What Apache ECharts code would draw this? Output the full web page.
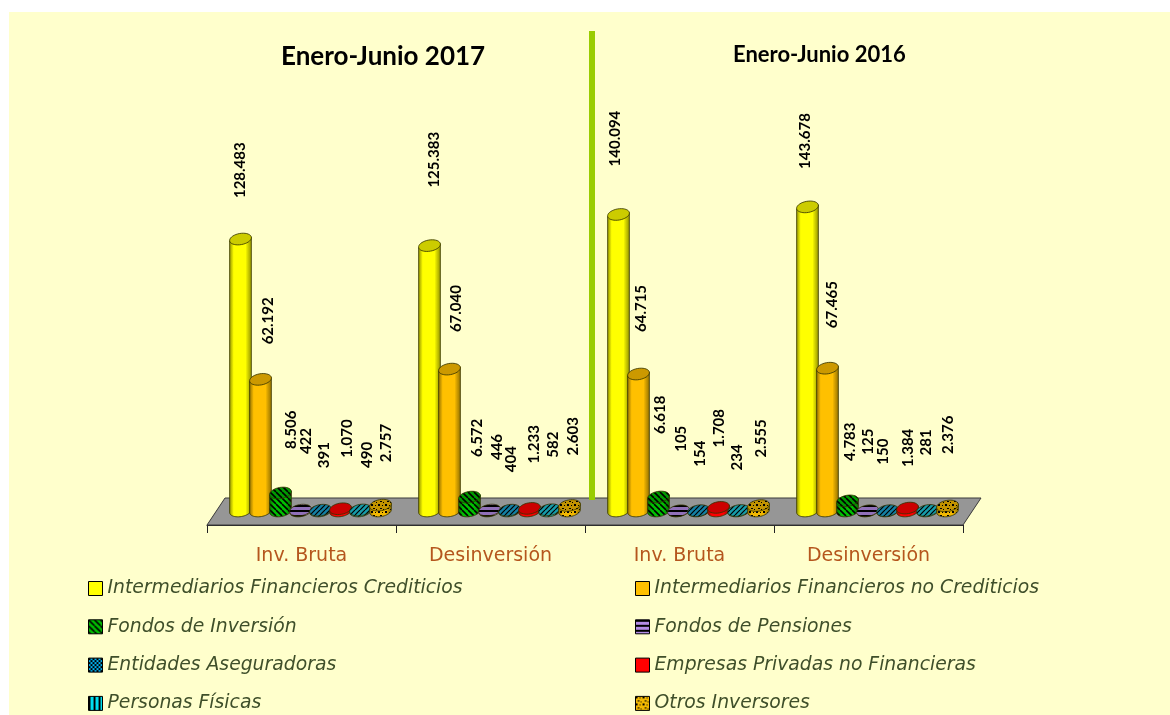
<!DOCTYPE html>
<html>
<head>
<meta charset="utf-8">
<style>
  html, body { margin: 0; padding: 0; background: #fff; }
  #chart { width: 1170px; height: 715px; }
</style>
<script src="https://cdn.jsdelivr.net/npm/echarts@6/dist/echarts.min.js"></script>
</head>
<body>
<div id="chart"></div>
<script>
const categories = ["Inv. Bruta", "Desinversión", "Inv. Bruta", "Desinversión"];

const crediticios = [128483, 125383, 140094, 143678];
const noCrediticios = [62192, 67040, 64715, 67465];
const fondosInversion = [8506, 6572, 6618, 4783];
const fondosPensiones = [422, 446, 105, 125];
const aseguradoras = [391, 404, 154, 150];
const empresas = [1070, 1233, 1708, 1384];
const personas = [490, 582, 234, 281];
const otros = [2757, 2603, 2555, 2376];

const periods = ["Enero-Junio 2017", "Enero-Junio 2016"];

// hand nudges for the data labels, the original has them moved around: [dx, gap above top]
const labelNudges = [
  [[-1, 41], [3.5, 58], [-4.5, 48], [-3.5, 38]],
  [[7, 35], [5.5, 37], [1.5, 42], [3.5, 40]],
  [[10, 44], [6.5, 40], [0.5, 63], [1.5, 40]],
  [[5, 56], [6.5, 50], [1.5, 59], [-0.5, 56]],
  [[3, 42], [0.5, 38], [0.5, 44], [-5.5, 46]],
  [[6, 51], [3.5, 45], [-0.5, 60], [-0.5, 41]],
  [[6, 42], [2.5, 52], [-2.5, 40], [-2.5, 55]],
  [[5, 43], [2.5, 50], [1.5, 48], [-0.5, 52]]
];

const FONT = "Lato, 'Open Sans', sans-serif";
const WIDE_FONT = "'DejaVu Sans', 'Open Sans', sans-serif";
const DEPTH_X = 9, DEPTH_Y = 14;
const TILT = -10 * Math.PI / 180;

function pattern(size, bg, draw) {
  const c = document.createElement("canvas");
  c.width = c.height = size;
  const g = c.getContext("2d");
  g.fillStyle = bg;
  g.fillRect(0, 0, size, size);
  g.fillStyle = g.strokeStyle = "#000";
  draw(g);
  return { image: c, repeat: "repeat" };
}

const diag = (w, back) => g => {
  const s = g.canvas.width;
  g.lineWidth = w;
  for (let i = -s; i <= 2 * s; i += s) {
    g.beginPath();
    if (back) { g.moveTo(i, 0); g.lineTo(i + s, s); }
    else { g.moveTo(i + s, 0); g.lineTo(i, s); }
    g.stroke();
  }
};

const greenFill = pattern(6, "#00c000", diag(1.6, true));
const purpleFill = pattern(5, "#b48ce6", g => g.fillRect(0, 0, 5, 2));
const checkFill = pattern(4, "#00b0f0", g => { g.fillRect(0, 0, 2, 2); g.fillRect(2, 2, 2, 2); });
const aseguradorasBody = pattern(5, "#1aa0cc", diag(1.2, false));
const cyanFill = pattern(5, "#00e0f0", g => g.fillRect(0, 0, 2, 5));
const personasBody = pattern(5, "#1cc4d4", diag(1.2, false));
const goldFill = pattern(7, "#f2b800", g => {
  g.fillRect(0, 0, 2, 2); g.fillRect(4, 1, 1, 1); g.fillRect(2, 4, 2, 1); g.fillRect(5, 5, 1, 1);
});

const seriesDefs = [
  { name: "Intermediarios Financieros Crediticios", values: crediticios, color: "#ffff00" },
  { name: "Intermediarios Financieros no Crediticios", values: noCrediticios, color: "#ffc000" },
  { name: "Fondos de Inversión", values: fondosInversion, color: greenFill },
  { name: "Fondos de Pensiones", values: fondosPensiones, color: purpleFill },
  { name: "Entidades Aseguradoras", values: aseguradoras, color: checkFill, body: aseguradorasBody },
  { name: "Empresas Privadas no Financieras", values: empresas, color: "#ff0000" },
  { name: "Personas Físicas", values: personas, color: cyanFill, body: personasBody },
  { name: "Otros Inversores", values: otros, color: goldFill }
];

function arc(cx, cy, a, b, from, to, n) {
  const pts = [];
  for (let i = 0; i <= n; i++) {
    const t = from + (to - from) * i / n;
    pts.push([
      cx + a * Math.cos(t) * Math.cos(TILT) - b * Math.sin(t) * Math.sin(TILT),
      cy + a * Math.cos(t) * Math.sin(TILT) + b * Math.sin(t) * Math.cos(TILT)
    ]);
  }
  return pts;
}

function fmt(v) {
  return String(v).replace(/\B(?=(\d{3})+$)/, ".");
}

const shade = new echarts.graphic.LinearGradient(0, 0, 1, 0, [
  { offset: 0, color: "rgba(40,40,0,0.5)" },
  { offset: 0.2, color: "rgba(0,0,0,0)" },
  { offset: 0.72, color: "rgba(0,0,0,0)" },
  { offset: 1, color: "rgba(40,40,0,0.5)" }
]);

function cylinder(idx, def) {
  return (params, api) => {
    const cat = api.value(0);
    const band = api.size([1, 0])[0];
    const slot = band / 9.45;
    const a = slot * 0.55, b = 5.6;
    const base = api.coord([cat, 0]);
    const top = api.coord([cat, api.value(1)]);
    const cx = base[0] + DEPTH_X + (idx - 3.5) * slot;
    const yBase = base[1] - DEPTH_Y;
    const yTop = top[1] - DEPTH_Y;
    const fill = def.body || def.color;

    const bodyPts = arc(cx, yBase, a, b, Math.PI, 0, 24);
    const capLeft = arc(cx, yTop, a, b, Math.PI, 0, 1)[0];
    const capRight = arc(cx, yTop, a, b, Math.PI, 0, 1)[1];
    const body = [capLeft].concat(bodyPts, [capRight]);
    const cap = arc(cx, yTop, a, b, 0, Math.PI * 2, 36);
    const edge = "rgba(50,50,0,0.8)";
    const nudge = labelNudges[idx][cat];

    return {
      type: "group",
      children: [
        { type: "polygon", shape: { points: body }, style: { fill: fill } },
        { type: "polygon", shape: { points: body }, style: { fill: shade, stroke: edge, lineWidth: 1 } },
        { type: "polygon", shape: { points: cap }, style: { fill: fill } },
        { type: "polygon", shape: { points: cap }, style: { fill: "rgba(0,0,0,0.2)", stroke: edge, lineWidth: 1 } },
        {
          type: "text",
          x: cx + nudge[0] + 1,
          y: yTop - nudge[1],
          rotation: Math.PI / 2,
          z2: 50,
          style: {
            text: fmt(api.value(1)),
            fill: "#000",
            font: "bold 15px " + FONT,
            align: "left",
            verticalAlign: "middle"
          }
        }
      ]
    };
  };
}

function floor(params, api) {
  const band = api.size([1, 0])[0];
  const o = api.coord([0, 0]);
  const left = o[0] - band / 2;
  const right = left + band * categories.length;
  const y = o[1];
  return {
    type: "polygon",
    shape: { points: [[left, y], [left + DEPTH_X * 2, y - DEPTH_Y * 2 + 1], [right + DEPTH_X * 2, y - DEPTH_Y * 2 + 1], [right, y]] },
    style: { fill: "#969696", stroke: "#3a3a3a", lineWidth: 1 }
  };
}

const series = [{
  name: "floor", type: "custom", z: 1, silent: true,
  data: [[0, 0]], encode: { x: 0, y: 1 }, renderItem: floor
}].concat(seriesDefs.map((d, i) => ({
  name: d.name,
  type: "custom",
  z: 4,
  itemStyle: { color: d.color },
  data: d.values.map((v, c) => [c, v]),
  encode: { x: 0, y: 1 },
  renderItem: cylinder(i, d)
})));

const legendStyle = {
  orient: "vertical",
  top: 574,
  height: 200,
  width: 480,
  itemWidth: 14,
  itemHeight: 14,
  itemGap: 19.3,
  icon: "rect",
  selectedMode: false,
  itemStyle: { borderColor: "#000", borderWidth: 1 },
  textStyle: { fontFamily: WIDE_FONT, fontStyle: "italic", fontSize: 18.8, color: "#3f4f2a", padding: [0, 0, 0, 0] }
};

const chart = echarts.init(document.getElementById("chart"));
chart.setOption({
  animation: false,
  backgroundColor: "#fff",
  title: [
    { text: periods[0], left: 276, top: 39, textStyle: { fontFamily: FONT, fontWeight: "bold", fontSize: 26, color: "#000" } },
    { text: periods[1], left: 728, top: 39, textStyle: { fontFamily: FONT, fontWeight: "bold", fontSize: 22, color: "#000" } }
  ],
  graphic: [
    { type: "rect", z: -1, shape: { x: 9, y: 12, width: 1161, height: 703 }, style: { fill: "#ffffcc" } },
    { type: "rect", z: 3, shape: { x: 589, y: 31, width: 6, height: 469 }, style: { fill: "#99cc00" } }
  ],
  legend: [
    Object.assign({}, legendStyle, { left: 83, data: [0, 2, 4, 6].map(i => seriesDefs[i].name) }),
    Object.assign({}, legendStyle, { left: 630, data: [1, 3, 5, 7].map(i => seriesDefs[i].name) })
  ],
  grid: { left: 207, width: 756, top: 207.5, height: 317.5 },
  xAxis: {
    type: "category",
    data: categories,
    axisLine: { lineStyle: { color: "#222", width: 1 } },
    axisTick: { show: true, length: 8, lineStyle: { color: "#222" } },
    axisLabel: { color: "#b5561d", fontSize: 19, fontFamily: WIDE_FONT, margin: 22 }
  },
  yAxis: { type: "value", min: 0, max: 150000, show: false },
  series: series
});
</script>
</body>
</html>
